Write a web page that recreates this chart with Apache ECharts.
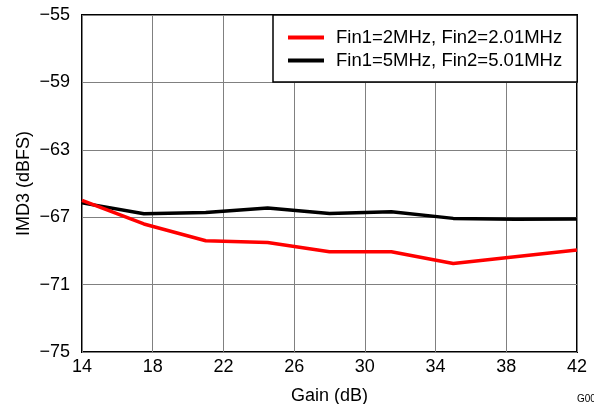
<!DOCTYPE html>
<html><head><meta charset="utf-8">
<script src="https://cdn.jsdelivr.net/npm/echarts@6/dist/echarts.min.js"></script>
<style>html,body{margin:0;padding:0;background:#fff}#c{width:594px;height:404px}</style>
</head><body><div id="c"></div>
<script>
const gain = [14, 17.5, 21, 24.5, 28, 31.5, 35, 38.5, 42];
const fin2MHz = [-66.0, -67.4, -68.4, -68.5, -69.05, -69.05, -69.75, -69.35, -68.95];
const fin5MHz = [-66.15, -66.8, -66.72, -66.45, -66.78, -66.68, -67.07, -67.12, -67.1];
const seriesNames = ['Fin1=2MHz, Fin2=2.01MHz', 'Fin1=5MHz, Fin2=5.01MHz'];
const seriesColors = ['#ff0000', '#000000'];
const font = 'Liberation Sans, Arial, sans-serif';
const chart = echarts.init(document.getElementById('c'), null, {renderer: 'canvas'});
const mk = (vals, i) => ({
  name: seriesNames[i], type: 'line', data: gain.map((g, k) => [g, vals[k]]),
  showSymbol: false, symbol: 'none', lineStyle: {color: seriesColors[i], width: 3.5}, itemStyle: {color: seriesColors[i]},
  animation: false, z: 3 + (1 - i)
});
chart.setOption({
  animation: false,
  grid: {left: 82, right: 17, top: 15, bottom: 52, show: true, borderColor: '#000', borderWidth: 2,
    containLabel: false, outerBoundsMode: 'none'},
  xAxis: {type: 'value', min: 14, max: 42, interval: 4, name: 'Gain (dB)', nameLocation: 'middle', nameGap: 35,
    nameMoveOverlap: false,
    nameTextStyle: {fontFamily: font, fontSize: 18, color: '#000'},
    axisLine: {show: false}, axisTick: {show: false},
    axisLabel: {fontFamily: font, fontSize: 18, color: '#000', margin: 6},
    splitLine: {show: true, lineStyle: {color: '#808080', width: 1}}},
  yAxis: {type: 'value', min: -75, max: -55, interval: 4, name: 'IMD3 (dBFS)', nameLocation: 'middle', nameGap: 49,
    nameMoveOverlap: false,
    nameTextStyle: {fontFamily: font, fontSize: 18, color: '#000'},
    axisLine: {show: false}, axisTick: {show: false},
    axisLabel: {fontFamily: font, fontSize: 18, color: '#000', margin: 12, formatter: v => String(v).replace('-', '\u2212')},
    splitLine: {show: true, lineStyle: {color: '#808080', width: 1}}},
  legend: {show: true, orient: 'vertical', left: 273, top: 15, itemWidth: 36, itemHeight: 4, itemGap: 4,
    padding: [13, 15, 12, 15], borderColor: '#000', borderWidth: 1.5, backgroundColor: '#fff',
    icon: 'rect',
    textStyle: {fontFamily: font, fontSize: 18.5, color: '#000', padding: [0, 0, 0, 7]},
    data: seriesNames.map((n, i) => ({name: n, itemStyle: {color: seriesColors[i]}}))},
  graphic: [{type: 'text', left: 577, top: 394, style: {text: 'G005', fontFamily: font, fontSize: 10, fill: '#000'}}],
  series: [mk(fin2MHz, 0), mk(fin5MHz, 1)]
});
</script></body></html>
